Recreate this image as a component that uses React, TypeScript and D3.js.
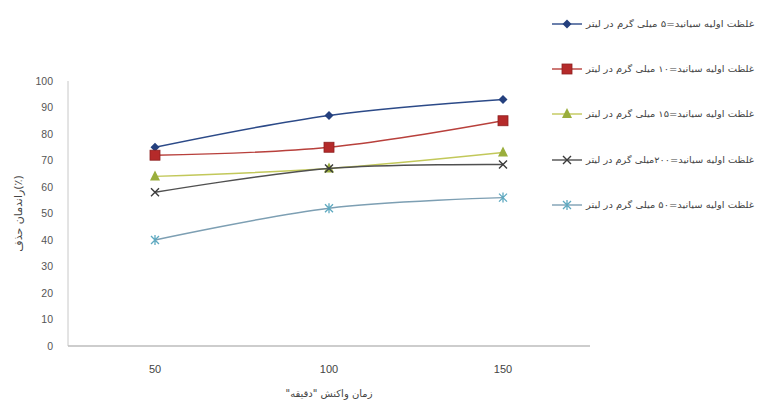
import React from "react";
import * as d3 from "d3";

const categories = ["50", "100", "150"];
const yTicks = [0, 10, 20, 30, 40, 50, 60, 70, 80, 90, 100];
const seriesNames = [
  "غلظت اولیه سیانید=۵ میلی گرم در لیتر",
  "غلظت اولیه سیانید=۱۰ میلی گرم در لیتر",
  "غلظت اولیه سیانید=۱۵ میلی گرم در لیتر",
  "غلظت اولیه سیانید=۲۰۰میلی گرم در لیتر",
  "غلظت اولیه سیانید=۵۰ میلی گرم در لیتر",
];
const s1 = [75, 87, 93];
const s2 = [72, 75, 85];
const s3 = [64, 67, 73];
const s4 = [58, 67, 68.5];
const s5 = [40, 52, 56];
const seriesValues = [s1, s2, s3, s4, s5];
const lineColors = ["#2c4a88", "#b8403c", "#c2c85a", "#505050", "#7d9fb3"];
const markerColors = ["#24407e", "#b52a2a", "#9aae3c", "#3a3a3a", "#5ea9c0"];
const markerKinds = ["diamond", "square", "triangle", "x", "star"];
const yTitle = "راندمان حذف(٪)";
const xTitle = "\"زمان واکنش \"دقیقه";

const W = 761;
const H = 405;
const plot = { left: 68, right: 590, top: 81, bottom: 346 };

function Marker({ kind, x, y, color }: { kind: string; x: number; y: number; color: string }) {
  if (kind === "diamond") {
    const r = 4.5;
    return <path d={`M${x},${y - r}L${x + r},${y}L${x},${y + r}L${x - r},${y}Z`} fill={color} />;
  }
  if (kind === "square") {
    const r = 5;
    return <rect x={x - r} y={y - r} width={2 * r} height={2 * r} fill={color} stroke="#8e2020" strokeWidth={0.8} />;
  }
  if (kind === "triangle") {
    const r = 5;
    return <path d={`M${x},${y - r - 1}L${x + r},${y + r - 1}L${x - r},${y + r - 1}Z`} fill={color} />;
  }
  if (kind === "x") {
    const r = 4;
    return (
      <path d={`M${x - r},${y - r}L${x + r},${y + r}M${x - r},${y + r}L${x + r},${y - r}`} stroke={color} strokeWidth={1.4} fill="none" />
    );
  }
  const r = 4;
  return (
    <path
      d={`M${x - r},${y - r}L${x + r},${y + r}M${x - r},${y + r}L${x + r},${y - r}M${x},${y - r - 1}L${x},${y + r + 1}`}
      stroke={color}
      strokeWidth={1.3}
      fill="none"
    />
  );
}

export default function App() {
  const x = d3.scaleBand<string>().domain(categories).range([plot.left, plot.right]);
  const y = d3.scaleLinear().domain([0, 100]).range([plot.bottom, plot.top]);
  const line = d3
    .line<number>()
    .x((_, i) => (x(categories[i]) as number) + x.bandwidth() / 2)
    .y((d) => y(d))
    .curve(d3.curveCatmullRom.alpha(0.5));

  const legendY = [24, 69, 114, 160, 205];
  const font = "'Liberation Sans', Arial, sans-serif";

  return (
    <svg width={W} height={H} style={{ position: "absolute", left: 0, top: 0, background: "#fff" }} fontFamily={font}>
      <line x1={plot.left} x2={plot.left} y1={plot.top} y2={plot.bottom} stroke="#c8c8c8" strokeWidth={1} />
      <line x1={plot.left} x2={plot.right} y1={plot.bottom} y2={plot.bottom} stroke="#bdbdbd" strokeWidth={1.5} />
      {yTicks.map((t) => (
        <text key={t} x={53} y={y(t)} dy="0.35em" textAnchor="end" fontSize={10.5} fill="#555">
          {t}
        </text>
      ))}
      {categories.map((c) => (
        <text key={c} x={(x(c) as number) + x.bandwidth() / 2} y={369} dy="0.35em" textAnchor="middle" fontSize={11} fill="#444">
          {c}
        </text>
      ))}
      <text
        transform={`translate(22,${(plot.top + plot.bottom) / 2}) rotate(-90)`}
        textAnchor="middle"
        fontSize={11}
        fill="#444"
        fontFamily="'DejaVu Sans', sans-serif"
      >
        {yTitle}
      </text>
      <text x={(plot.left + plot.right) / 2} y={393} dy="0.35em" textAnchor="middle" fontSize={10} fill="#444" fontFamily="'DejaVu Sans', sans-serif">
        {xTitle}
      </text>
      {seriesValues.map((vals, si) => (
        <g key={si}>
          <path d={line(vals) || ""} fill="none" stroke={lineColors[si]} strokeWidth={1.4} />
          {vals.map((v, i) => (
            <Marker
              key={i}
              kind={markerKinds[si]}
              x={(x(categories[i]) as number) + x.bandwidth() / 2}
              y={y(v)}
              color={markerColors[si]}
            />
          ))}
        </g>
      ))}
      {seriesNames.map((name, si) => (
        <g key={si}>
          <line x1={552} x2={582} y1={legendY[si]} y2={legendY[si]} stroke={lineColors[si]} strokeWidth={1.4} />
          <Marker kind={markerKinds[si]} x={567} y={legendY[si]} color={markerColors[si]} />
          <text
            x={586}
            y={legendY[si]}
            dy="0.35em"
            fontSize={9}
            fill="#444"
            fontFamily="'DejaVu Sans', sans-serif"
            textLength={168}
            lengthAdjust="spacingAndGlyphs"
          >
            {name}
          </text>
        </g>
      ))}
    </svg>
  );
}
